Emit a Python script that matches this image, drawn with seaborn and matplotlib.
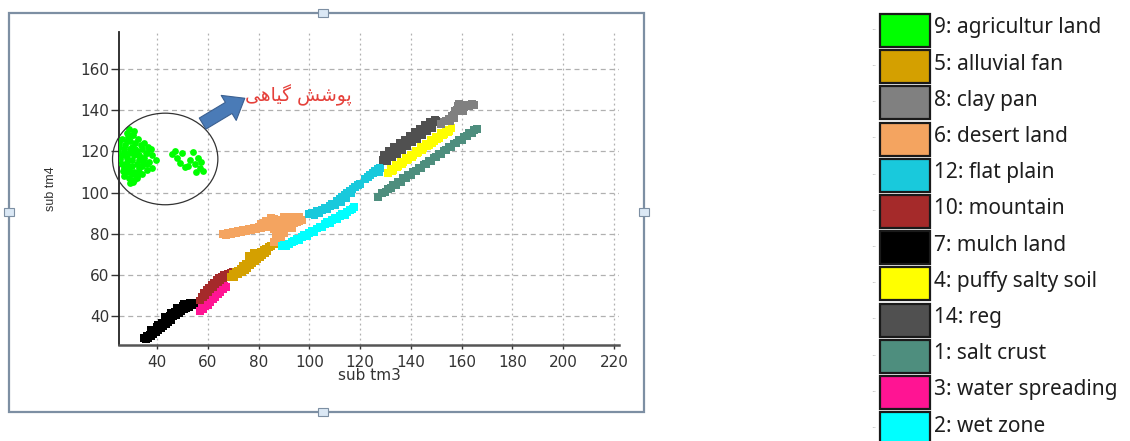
import matplotlib
matplotlib.use("Agg")
import matplotlib.pyplot as plt
from matplotlib.patches import Ellipse, FancyArrowPatch, Rectangle
import seaborn as sns
import pandas as pd

###############################################################################
# 1. DATA (sub tm3 vs sub tm4)
###############################################################################
mulch_x = [35, 35.5, 36, 36.5, 37, 37.5, 38, 38.5, 39, 39.5, 40, 40.5, 41, 41.5, 42, 42.5,
           43, 43.5, 44, 44.5, 45, 45.5, 46, 46.5, 47, 47.5, 48, 48.5, 49, 49.5, 50, 50.5,
           51, 51.5, 52, 52.5, 53, 54, 55, 56, 37.5, 40.5, 43, 45.5, 48, 50.5]
mulch_y = [29.5, 28.8, 30.5, 29.2, 31, 30.2, 32.5, 31.2, 33.4, 32, 34.5, 33, 35.5, 34.3, 36.8, 35,
           37.3, 36.2, 38.8, 37, 39.9, 38.2, 40.5, 39.8, 42, 40.3, 42.8, 41.5, 44, 42.2, 44.8, 43.5,
           45.5, 43.8, 46, 44.5, 46.3, 45.5, 46.2, 45.8, 33, 35.5, 39.5, 41.5, 44, 45.8]

water_x = [57, 57.5, 58, 58.5, 59, 59.5, 60, 60.5, 61, 61.5, 62, 62.5, 63, 63.5, 64, 64.5,
           65, 65.5, 66, 66.5, 67]
water_y = [42.5, 44, 43.5, 45.5, 44.8, 46.5, 45.5, 47.5, 47, 48.5, 48, 49.8, 49, 51, 50.5, 52,
           51.5, 53.5, 53, 54.5, 54]

mountain_x = [57, 57.5, 58, 58.5, 59, 59.5, 60, 60.5, 61, 61.5, 62, 62.5, 63, 63.5, 64, 64.5,
              65, 65.5, 66, 66.5, 67, 68, 69, 70, 69.5]
mountain_y = [47.5, 49.5, 49, 51, 50, 52.5, 51.5, 53.5, 53, 55, 54, 56, 55.5, 57.5, 56.5, 58.5,
              57.5, 59, 58.5, 60, 59.5, 60.5, 61, 61.5, 59.5]

alluvial_x = [69, 70, 70.5, 71, 72, 72, 73, 73.5, 74, 74.5, 75, 75.5, 76, 76.5, 77, 77.5,
              78, 78.5, 79, 79.5, 80, 80.5, 81, 81.5, 82, 82.5, 83, 83.5, 84, 85, 86, 87, 76, 78]
alluvial_y = [59, 60.5, 59, 61.5, 62, 60.5, 63, 61.5, 64.5, 62.5, 65.5, 63.5, 66.5, 64.5, 67.5, 65.5,
              68, 66.5, 69, 67.5, 70, 68.5, 71, 69.5, 72, 70.5, 72.5, 71.5, 73.5, 74, 75, 75.5, 69, 70.5]

desert_x = [66, 67, 68, 69, 70, 71, 72, 73, 74, 75, 76, 77, 78, 79, 80, 81, 81, 82, 83, 84,
            84, 85, 86, 86, 87, 87, 88, 88, 89, 89, 90, 90, 91, 92, 93, 94, 95, 96, 97, 93,
            88, 87, 86, 89,
            82, 83, 85, 86, 87, 88, 89, 90, 91, 92, 93, 94, 95, 96, 90, 89, 88, 87]
desert_y = [80, 79.5, 80.5, 79.8, 81, 80.3, 81.5, 80.8, 82, 81.2, 82.5, 81.8, 83, 82.3, 83.5, 84.5,
            82.5, 85, 84, 86, 83, 87.5, 85, 82, 86.5, 80, 84, 78.5, 85.5, 81, 86, 83, 87, 84.5,
            86, 85, 87, 88, 86.5, 82.5, 76.5, 77.5, 76, 79.5,
            83.5, 86, 84.5, 87, 84, 86.5, 84, 88, 85, 86.5, 88, 86.5, 85.5, 86, 80.5, 77.5, 80.5, 78.8]

wet_x = [89, 90, 91, 92, 93, 94, 95, 96, 97, 98, 99, 100, 101, 102, 103, 104, 105, 106, 107,
         108, 109, 110, 111, 112, 113, 114, 115, 116, 117, 117.5]
wet_y = [74, 74.5, 73.8, 75, 75.8, 76.3, 77.5, 77, 78.5, 79.5, 79, 80.5, 81.5, 81, 82.5, 83.5,
         83, 84.5, 85.5, 85, 86.5, 87.5, 87, 88.5, 89.5, 89, 90.5, 91.5, 92, 93]

flat_x = [100, 101, 102, 103, 104, 105, 106, 107, 108, 109, 110, 111, 112, 112.5, 113, 114,
          114.5, 115, 116, 116.5, 117, 118, 119, 120, 122, 123, 124, 125, 126, 127, 128, 127.5]
flat_y = [89.5, 90, 89, 91, 90, 91.5, 92.5, 91.8, 93.5, 94.5, 94, 96, 97, 95.5, 98, 99,
          97.5, 100, 101, 99.5, 101.5, 102.5, 103.5, 104, 106.5, 107.5, 108.5, 109.5, 110.5,
          111.5, 112, 110]

salt_x = [127, 128.5, 130, 131, 132, 133, 134, 135, 136, 137, 138, 139, 140, 141, 142, 143,
          144, 145, 146, 147, 148, 149, 150, 151, 152, 153, 154, 155, 156, 157, 158, 159,
          160, 161, 162, 163, 164, 165, 166]
salt_y = [98, 99.6, 100.2, 101.8, 102, 103.5, 103.6, 105.2, 105.3, 106.9, 107, 108.6, 108.7,
          110.2, 110.4, 111.9, 112.1, 113.6, 113.8, 115.3, 115.5, 117, 117.2, 118.7, 118.9,
          120.4, 120.5, 122.1, 122.2, 123.8, 123.9, 125.5, 125.6, 127.2, 127.3, 128.9, 129,
          130.5, 131]

puffy_x = [131, 132, 133, 134, 135, 136, 137, 138, 139, 140, 141, 142, 143, 144, 145, 146,
           147, 148, 149, 150, 151, 152, 153, 154, 155, 156,
           132.5, 134.5, 136.5, 138.5, 140.5, 142.5, 144.5, 146.5, 148.5, 150.5, 152.5, 154.5]
puffy_y = [109.5, 111.5, 111, 113.3, 113, 115, 114.8, 116.8, 116.3, 118.5, 118, 120.3, 119.8,
           122, 121.5, 123.6, 123.2, 125.4, 125, 127, 126.6, 128.8, 128.3, 130.4, 130, 131.5,
           110.5, 112.3, 114, 115.7, 117.3, 119.2, 120.8, 122.5, 124.2, 125.8, 127.7, 129.4]

reg_x = [129, 130, 131, 132, 133, 134, 135, 136, 137, 138, 139, 140, 141, 142, 143, 144,
         145, 146, 147, 148, 149, 150,
         129.5, 131.5, 133.5, 135.5, 137.5, 139.5, 141.5, 143.5, 145.5, 147.5, 149.5,
         130.5, 132.5, 134.5, 136.5, 138.5, 140.5, 142.5, 144.5, 146.5, 148.5]
reg_y = [116, 116.9, 117.8, 118.7, 119.6, 120.5, 121.4, 122.3, 123.2, 124.1, 125, 125.9,
         126.8, 127.7, 128.6, 129.5, 130.4, 131.3, 132.2, 133.1, 134, 134.6,
         118.5, 120.3, 122.1, 123.9, 125.7, 127.5, 129.3, 131.1, 132.9, 134.4, 135.5,
         115.3, 117.1, 118.9, 120.7, 122.5, 124.3, 126.1, 127.9, 129.7, 131.5]

clay_x = [152, 153, 154, 155, 156, 157, 157.5, 158, 158.5, 159, 159.5, 160, 161, 162, 163,
          164, 165, 155.5, 157, 160.5]
clay_y = [133.5, 134.5, 135, 136, 137, 137.5, 139.5, 140, 142, 143, 141.5, 142.5, 141.5,
          142.5, 142, 143, 142.5, 134.8, 136.2, 139.5]

agri_x = [24.5, 25, 26, 27, 28, 29, 30, 31, 32, 33, 34, 35, 36, 37, 38,
          25, 26, 27.5, 28.5, 29.5, 30.5, 31.5, 32.5, 33.5, 35, 36.5,
          26, 27, 28, 29, 30, 31, 32, 33, 34,
          27, 28, 29, 30, 31, 32, 33,
          28, 29, 30, 31,
          29.5, 30.5, 32, 34, 36, 38, 39.5,
          25.5, 27, 28.5, 30, 31.5, 33, 34.5, 36, 37.5,
          26.5, 28, 29.5, 31, 32.5, 34, 35.5,
          47, 48, 49, 50, 52, 53, 54, 55, 56, 57, 58, 51, 46, 55.5, 57.5]
agri_y = [120, 122, 118, 121, 117, 119, 122, 118, 120, 116, 121, 117, 119, 115, 118,
          124, 126, 123, 127, 125, 128, 124, 126, 123, 124, 122,
          114, 112, 115, 111, 113, 110, 114, 112, 113,
          108, 110, 107, 109, 106, 108, 110,
          129, 131, 128, 130,
          104.5, 105, 107, 109, 111, 112, 116,
          116.5, 119, 113, 116, 121, 118, 115, 114, 121,
          110.5, 125, 121, 120, 110, 117, 119,
          120, 117, 114.5, 119, 113, 116, 119.5, 114, 117, 112, 110.5, 112.5, 118.5, 110, 115]

classes = ["9: agricultur land", "5: alluvial fan", "8: clay pan", "6: desert land",
           "12: flat plain", "10: mountain", "7: mulch land", "4: puffy salty soil",
           "14: reg", "1: salt crust", "3: water spreading", "2: wet zone"]
class_colors = ["#00ff00", "#d4a000", "#808080", "#f4a460", "#19c9dc", "#a52a2a",
                "#000000", "#ffff00", "#505050", "#4e8e7e", "#ff1493", "#00ffff"]

x_ticks = [40, 60, 80, 100, 120, 140, 160, 180, 200, 220]
y_ticks = [40, 60, 80, 100, 120, 140, 160]

###############################################################################
# 2. BUILD TABLE
###############################################################################
band_series = [
    ("7: mulch land", mulch_x, mulch_y),
    ("3: water spreading", water_x, water_y),
    ("10: mountain", mountain_x, mountain_y),
    ("5: alluvial fan", alluvial_x, alluvial_y),
    ("6: desert land", desert_x, desert_y),
    ("2: wet zone", wet_x, wet_y),
    ("12: flat plain", flat_x, flat_y),
    ("1: salt crust", salt_x, salt_y),
    ("4: puffy salty soil", puffy_x, puffy_y),
    ("14: reg", reg_x, reg_y),
    ("8: clay pan", clay_x, clay_y),
]
frames = [pd.DataFrame({"tm3": xs, "tm4": ys, "cls": name}) for name, xs, ys in band_series]
bands = pd.concat(frames, ignore_index=True)
agri = pd.DataFrame({"tm3": agri_x, "tm4": agri_y, "cls": "9: agricultur land"})
palette = dict(zip(classes, class_colors))

###############################################################################
# 3. PLOT
###############################################################################
sns.set_style("white")
plt.rcParams["font.family"] = ["DejaVu Sans"]

fig = plt.figure(figsize=(11.3, 4.41), dpi=100)
ax = fig.add_axes([119 / 1130, 1 - 345 / 441, 500 / 1130, 313 / 441])

sns.scatterplot(data=bands, x="tm3", y="tm4", hue="cls", palette=palette, marker="s",
                s=32, linewidth=0, legend=False, ax=ax, zorder=3)
sns.scatterplot(data=agri, x="tm3", y="tm4", color=palette["9: agricultur land"], marker="o",
                s=24, linewidth=0, legend=False, ax=ax, zorder=3)

ax.set_xlim(25, 222)
ax.set_ylim(25.9, 178)
ax.set_xticks(x_ticks)
ax.set_yticks(y_ticks)
ax.tick_params(axis="both", direction="out", width=1, colors="#333333",
               labelsize=11, labelcolor="#333333", left=True, bottom=True)
ax.tick_params(axis="x", length=3, pad=4)
ax.tick_params(axis="y", length=6, pad=1)
for side in ["top", "right"]:
    ax.spines[side].set_visible(False)
ax.spines["left"].set_color("#222222")
ax.spines["left"].set_linewidth(1.3)
ax.spines["bottom"].set_color("#555555")
ax.spines["bottom"].set_linewidth(1.8)
ax.xaxis.grid(True, linestyle=(0, (1.5, 2.5)), color="#b0b0b0", linewidth=0.9)
ax.yaxis.grid(True, linestyle=(0, (4, 3)), color="#b0b0b0", linewidth=0.9)
ax.set_axisbelow(True)

ax.set_xlabel("sub tm3", fontsize=11, color="#333333")
ax.set_ylabel("sub tm4", fontsize=9, color="#333333", family=["Liberation Sans"])
ax.xaxis.set_label_coords(0.5, -0.075)
ax.yaxis.set_label_coords(-0.125, 0.5)

# circled vegetation cluster + arrow + Persian note
ax.add_patch(Ellipse((43.2, 116.3), 41.5, 44.5, fill=False, edgecolor="#333333",
                     linewidth=0.9, clip_on=False, zorder=4))
ax.add_patch(FancyArrowPatch((57, 132.8), (75.5, 146.5),
                             arrowstyle="simple,head_length=0.9,head_width=1.4,tail_width=0.62",
                             mutation_scale=15, facecolor="#4a7bb7", edgecolor="#3b6091",
                             linewidth=0.8, zorder=4))
ax.text(95.5, 147.5, "\ufbfd\ufeeb\ufe8e\ufbff\ufb94 \ufeb6\ufeb7\ufeee\ufb58", color="#e5403a",
        fontsize=13.5, family=["DejaVu Sans"], ha="center", va="center")

# chart frame with handles
fig.add_artist(Rectangle((9 / 1130, 1 - 412 / 441), 635 / 1130, 399 / 441,
                         transform=fig.transFigure, fill=False, edgecolor="#7d8fa3",
                         linewidth=1.6))
for hx, hy in [(323, 13), (323, 412), (9, 212), (644, 212)]:
    fig.add_artist(Rectangle(((hx - 5) / 1130, 1 - (hy + 4) / 441), 10 / 1130, 8 / 441,
                             transform=fig.transFigure, facecolor="#dbe8f5",
                             edgecolor="#7d8fa3", linewidth=0.8))

# legend on the right (swatch + label per class)
for i, (name, color) in enumerate(zip(classes, class_colors)):
    top = 14 + 36.2 * i
    fig.add_artist(Rectangle((880 / 1130, 1 - (top + 33) / 441), 50 / 1130, 33 / 441,
                             transform=fig.transFigure, facecolor=color,
                             edgecolor="#1a1a1a", linewidth=1.6))
    fig.text(934 / 1130, 1 - (top + 19.5) / 441, name, color="#1e1e1e", fontsize=15,
             family=["Noto Sans"], ha="left", va="baseline")
    fig.text(874 / 1130, 1 - (top + 16.5) / 441, "··", color="#9a9a9a", fontsize=6,
             ha="center", va="center")

fig.savefig("out.png", dpi=100)
